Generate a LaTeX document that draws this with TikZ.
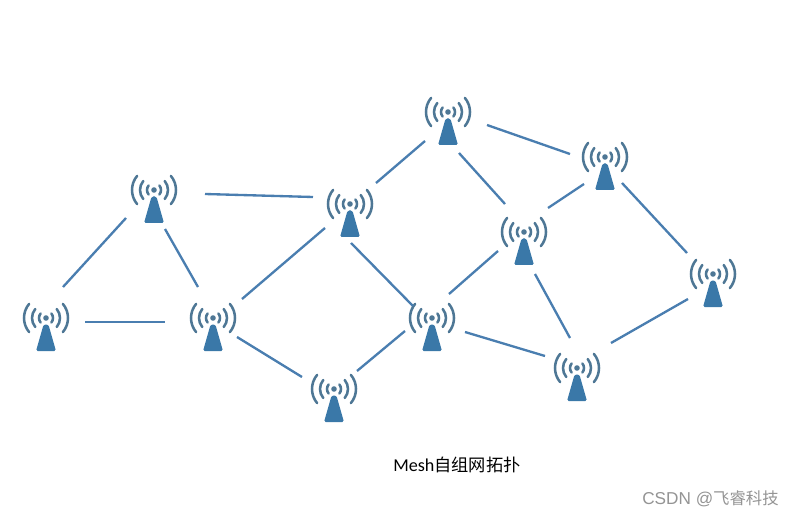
\documentclass[tikz,border=0pt]{standalone}
\usepackage{fontspec}
\setmainfont{Carlito}
\newfontfamily\cjk{Noto Sans CJK SC}[Scale=0.95]
\newfontfamily\marksans{Liberation Sans}
\usetikzlibrary{calc}
\definecolor{meshline}{HTML}{4A7EB0}
\definecolor{meshtower}{HTML}{3A78A8}
\definecolor{mesharc}{HTML}{4E7795}
\tikzset{
  meshap/.style={circle,inner sep=0pt,minimum size=5pt,fill=mesharc},
  meshlink/.style={draw=meshline,line width=1.75pt},
  mesharcs/.style={draw=mesharc,line width=1.9pt,line cap=round},
}
\newcommand{\meshnode}[3]{%
  \node[meshap,minimum size=4.2pt] (#1) at (#2,#3) {};
  \begin{scope}[shift={(#2,#3)}]
    \fill[meshtower,rounded corners=1.2pt] (-2.4,6.5) -- (2.4,6.5) -- (10,33) -- (-10,33) -- cycle;
    \foreach \r in {7,14,22} {
      \draw[mesharcs] (\r*0.766,-\r*0.643) arc (-40:40:\r);
      \draw[mesharcs] (-\r*0.766,-\r*0.643) arc (220:140:\r);
    }
  \end{scope}
}
\begin{document}
\begin{tikzpicture}[x=0.75pt,y=-0.75pt]
  \useasboundingbox (0,0) rectangle (794,517);
  \meshnode{A}{46}{318}
  \meshnode{B}{154}{190}
  \meshnode{C}{213}{318}
  \meshnode{D}{350}{204}
  \meshnode{E}{334}{389}
  \meshnode{F}{432}{318}
  \meshnode{G}{448}{112}
  \meshnode{H}{524}{232}
  \meshnode{I}{605}{157}
  \meshnode{J}{713}{274}
  \meshnode{K}{577}{368}
  \foreach \a/\b/\ax/\ay/\bx/\by in {A/B/17/-31/-28/28, A/C/39/4/-48/4, B/C/11/39/-15/-31,
      B/D/51/4/-37/-7, C/D/29/-19/-25/24, C/E/24/19/-32/-12, D/F/1/39/-19/-12,
      D/G/26/-21/-23/29, E/F/23/-18/-27/13, F/H/17/-24/-26/19, F/K/33/14/-32/-12,
      G/H/11/41/-19/-28, G/I/39/13/-35/-3, H/I/24/-24/-21/27, H/K/11/42/-7/-30,
      I/J/17/26/-26/-21, J/K/-25/25/34/-25} {
    \draw[meshlink] ($(\a)+(\ax,\ay)$) -- ($(\b)+(\bx,\by)$);
  }
  \node[anchor=west,inner sep=0pt,font=\fontsize{13.6}{15}\selectfont] (caption) at (393,465)
    {Mesh{\cjk 自组网拓扑}};
  \node[anchor=west,inner sep=0pt,text=black!42,font=\marksans\fontsize{12.9}{15}\selectfont] (watermark) at (642,499)
    {CSDN @{\cjk 飞睿科技}};
\end{tikzpicture}
\end{document}
